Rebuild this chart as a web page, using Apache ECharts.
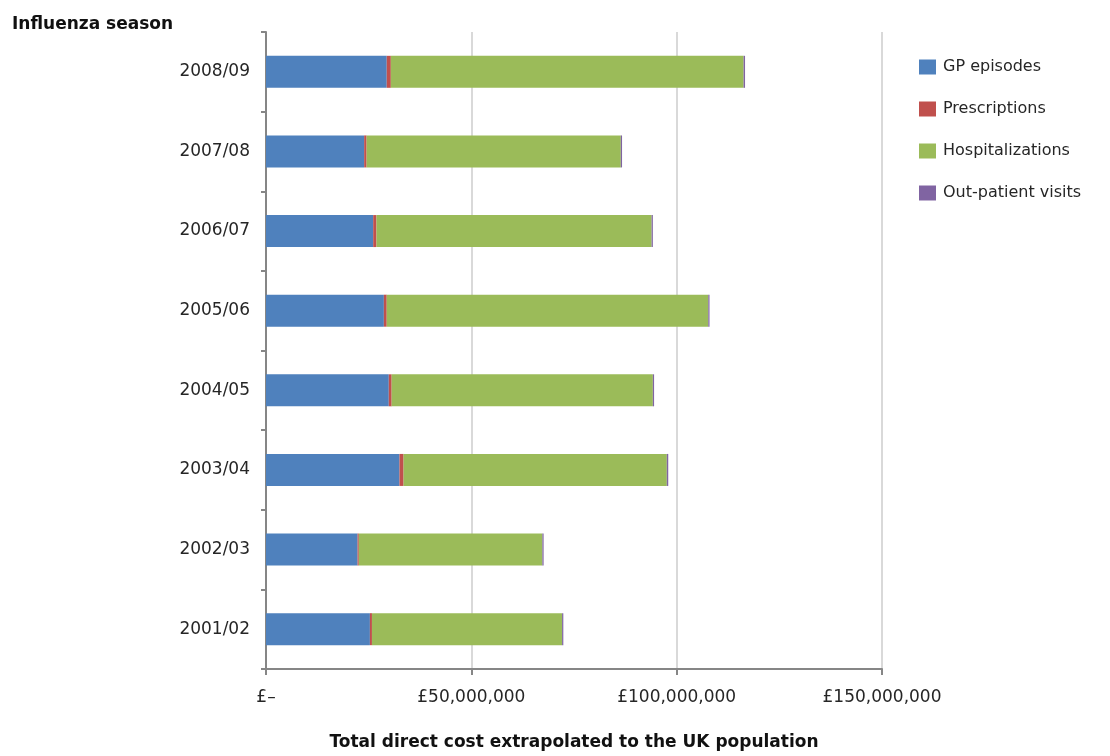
<!DOCTYPE html>
<html>
<head>
<meta charset="utf-8">
<title>Influenza season costs</title>
<script src="https://cdn.jsdelivr.net/npm/echarts@6/dist/echarts.min.js"></script>
<style>
  html, body { margin: 0; padding: 0; background: #fff; }
  #chart { width: 1110px; height: 756px; }
</style>
</head>
<body>
<div id="chart"></div>
<script>
// seasons, bottom to top
const seasons = ['2001/02', '2002/03', '2003/04', '2004/05', '2005/06', '2006/07', '2007/08', '2008/09']
// costs in £ million
const gpEpisodes = [25.3, 22.3, 32.5, 29.9, 28.7, 26.1, 23.9, 29.4]
const prescriptions = [0.5, 0.3, 1.0, 0.7, 0.7, 0.8, 0.6, 1.0]
const hospitalizations = [46.3, 44.7, 64.1, 63.6, 78.3, 67.0, 61.9, 85.9]
const outPatient = [0.3, 0.3, 0.35, 0.3, 0.3, 0.3, 0.3, 0.35]

const font = 'DejaVu Sans'
const chart = echarts.init(document.getElementById('chart'))

function barSeries(name, data, color) {
  return {
    name: name,
    type: 'bar',
    stack: 'total',
    barWidth: 32,
    itemStyle: { color: color },
    data: data
  }
}

const option = {
  animation: false,
  textStyle: { fontFamily: font },
  title: {
    text: 'Influenza season',
    left: 7,
    top: 11,
    textStyle: { fontFamily: font, fontSize: 17, fontWeight: 'bold', color: '#111' }
  },
  legend: {
    orient: 'vertical',
    left: 914,
    top: 54,
    icon: 'rect',
    itemWidth: 17,
    itemHeight: 15,
    itemGap: 26,
    textStyle: { fontFamily: font, fontSize: 16, color: '#262626', padding: [0, 0, 0, 2] },
    data: ['GP episodes', 'Prescriptions', 'Hospitalizations', 'Out-patient visits']
  },
  grid: { left: 266, right: 228, top: 32, bottom: 73 },
  xAxis: {
    type: 'value',
    min: 0,
    max: 150,
    interval: 50,
    name: 'Total direct cost extrapolated to the UK population',
    nameLocation: 'middle',
    nameGap: 65,
    nameTextStyle: { fontFamily: font, fontSize: 17, fontWeight: 'bold', color: '#111' },
    axisLine: { show: true, lineStyle: { color: '#868686', width: 2 } },
    axisTick: { show: true, length: 6, lineStyle: { color: '#868686', width: 2 } },
    axisLabel: {
      margin: 20,
      fontSize: 17,
      color: '#262626',
      formatter: function (v) {
        if (v === 0) return '£\u2013'
        return '£' + (v * 1000000).toLocaleString('en-GB')
      }
    },
    splitLine: { show: true, lineStyle: { color: '#d9d9d9', width: 2 } }
  },
  yAxis: {
    type: 'category',
    data: seasons,
    axisLine: { show: true, lineStyle: { color: '#868686', width: 2 } },
    axisTick: { show: true, length: 5, lineStyle: { color: '#868686', width: 2 } },
    axisLabel: { margin: 16, fontSize: 17, color: '#262626' }
  },
  series: [
    barSeries('GP episodes', gpEpisodes, '#4F81BD'),
    barSeries('Prescriptions', prescriptions, '#C0504D'),
    barSeries('Hospitalizations', hospitalizations, '#9BBB59'),
    barSeries('Out-patient visits', outPatient, '#8064A2')
  ]
}

chart.setOption(option)
</script>
</body>
</html>
